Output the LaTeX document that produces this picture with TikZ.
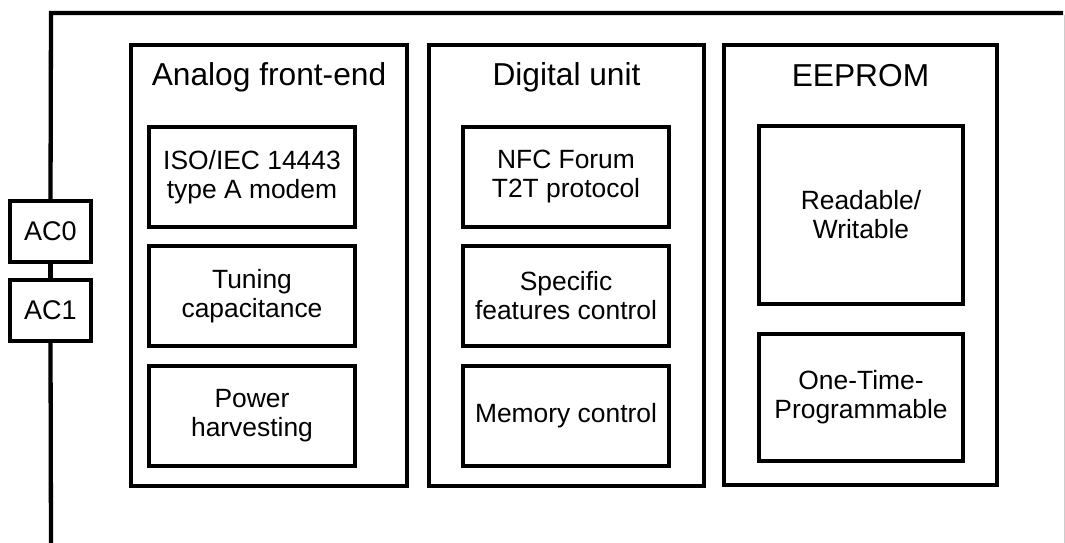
\documentclass[tikz,border=0pt]{standalone}
\usepackage{fontspec}
\setmainfont{Liberation Sans}
\begin{document}
\begin{tikzpicture}[x=1pt,y=-1pt,
  frame/.style={line width=4.3pt},
  group/.style={draw,line width=4.3pt,inner sep=0pt},
  blk/.style={draw,line width=4.3pt,inner sep=0pt,minimum width=206pt,minimum height=100pt,align=center,font=\fontsize{26.4}{29}\selectfont},
  pin/.style={draw,line width=4.3pt,inner sep=0pt,minimum width=81pt,minimum height=61pt,font=\fontsize{27}{30}\selectfont},
  title/.style={anchor=base,font=\fontsize{31.7}{36}\selectfont}]
\useasboundingbox (0,0) rectangle (1065,543);
% outer frame
\coordinate (tl) at (51,13);
\coordinate (tr) at (1063,13);
\coordinate (bl) at (51,543);
\draw[gray!40,line width=1pt] (1064.5,15) -- (1064.5,543);
% pins
\node[pin] (ac0) at (50.5,231.5) {AC0};
\node[pin] (ac1) at (50.5,310.5) {AC1};
\draw[frame] (ac0.north) -- (tl) -- (tr);
\draw[frame] (ac0.south) -- (ac1.north);
\draw[frame] (ac1.south) -- (bl);
% groups
\node[group,minimum width=276pt,minimum height=441pt] (afe) at (269,265.5) {};
\node[group,minimum width=275pt,minimum height=441pt] (dig) at (566.5,265.5) {};
\node[group,minimum width=273pt,minimum height=440pt] (eep) at (860.5,265) {};
\node[title] (afet) at (269,85) {Analog front-end};
\node[title] (digt) at (566.5,85.5) {Digital unit};
\node[title] (eept) at (860.5,86.5) {EEPROM};
% analog blocks
\node[blk] (iso) at (252,177) {ISO/IEC 14443\\type A modem};
\node[blk] (tun) at (252,296) {Tuning\\capacitance};
\node[blk] (pwr) at (252,416) {Power\\harvesting};
% digital blocks
\node[blk] (nfc) at (566,177) {NFC Forum\\T2T protocol};
\node[blk] (spf) at (566,296) {Specific\\features control};
\node[blk] (mem) at (566,416) {Memory control};
% eeprom blocks
\node[blk,minimum width=204pt,minimum height=178pt] (rw) at (861,215) {Readable/\\Writable};
\node[blk,minimum width=204pt,minimum height=127pt] (otp) at (861,397.5) {One-Time-\\Programmable};
\end{tikzpicture}
\end{document}
